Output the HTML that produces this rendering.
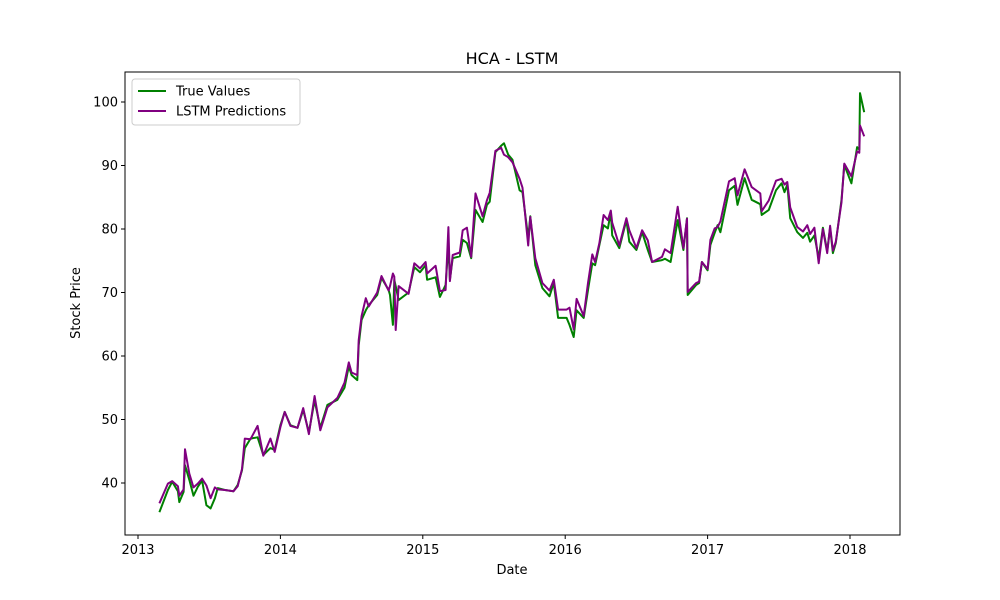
<!DOCTYPE html>
<html><head><meta charset="utf-8"><style>
body{margin:0;background:#fff;}
svg{display:block;font-family:"DejaVu Sans","Liberation Sans",sans-serif;}
</style></head><body>
<svg id="chart" width="1000" height="600">
<rect x="0" y="0" width="1000" height="600" fill="#fff"/>
<g id="plot"></g>
</svg>
<script>
const dates=[2013.15,2013.21,2013.24,2013.28,2013.29,2013.32,2013.33,2013.36,2013.39,2013.42,2013.45,2013.48,2013.51,2013.54,2013.56,2013.61,2013.67,2013.70,2013.73,2013.75,2013.79,2013.84,2013.88,2013.93,2013.96,2014.00,2014.03,2014.07,2014.12,2014.16,2014.20,2014.24,2014.28,2014.33,2014.40,2014.45,2014.48,2014.50,2014.54,2014.55,2014.57,2014.60,2014.62,2014.68,2014.71,2014.76,2014.77,2014.79,2014.80,2014.81,2014.83,2014.90,2014.94,2014.98,2015.02,2015.03,2015.09,2015.12,2015.16,2015.18,2015.19,2015.21,2015.26,2015.28,2015.31,2015.34,2015.37,2015.42,2015.45,2015.47,2015.51,2015.55,2015.57,2015.60,2015.63,2015.68,2015.70,2015.74,2015.755,2015.79,2015.84,2015.89,2015.92,2015.95,2016.01,2016.03,2016.06,2016.08,2016.13,2016.16,2016.19,2016.21,2016.24,2016.27,2016.30,2016.32,2016.33,2016.38,2016.43,2016.45,2016.50,2016.54,2016.58,2016.61,2016.68,2016.70,2016.74,2016.79,2016.83,2016.855,2016.86,2016.92,2016.94,2016.96,2017.00,2017.02,2017.05,2017.07,2017.09,2017.15,2017.19,2017.21,2017.26,2017.31,2017.37,2017.38,2017.43,2017.48,2017.52,2017.54,2017.56,2017.58,2017.63,2017.67,2017.70,2017.72,2017.75,2017.78,2017.81,2017.84,2017.86,2017.88,2017.90,2017.94,2017.96,2018.01,2018.05,2018.065,2018.07,2018.10];
const trueValues=[35.4,38.9,40.2,38.7,37.0,38.6,42.8,40.5,38.0,39.4,40.4,36.5,36.0,37.6,39.2,38.9,38.7,39.7,42.0,45.5,47.0,47.2,44.4,45.5,45.2,49.1,51.2,49.1,48.7,51.5,48.0,53.0,48.7,52.3,53.1,55.0,58.4,57.0,56.2,61.7,65.7,67.2,68.0,69.6,72.3,70.4,69.6,64.9,72.0,71.0,68.8,70.0,74.0,73.2,74.3,72.0,72.4,69.3,71.2,77.5,72.0,75.4,75.7,78.3,77.8,75.4,83.0,81.1,83.8,84.3,92.1,93.1,93.5,91.7,90.9,86.1,85.8,78.6,82.0,74.3,70.7,69.4,71.5,66.0,66.0,64.9,63.0,67.2,66.0,70.4,74.6,74.3,77.5,80.6,80.1,82.7,79.0,77.0,81.4,78.0,76.7,79.5,76.7,74.8,75.1,75.3,74.8,81.4,76.7,81.7,69.6,71.2,71.5,74.8,73.5,77.5,79.4,80.6,79.5,86.1,86.8,83.8,88.0,84.6,83.9,82.2,83.0,86.1,87.2,85.8,87.0,81.7,79.5,78.6,79.4,78.0,79.0,75.4,80.2,76.5,80.2,76.2,77.8,84.6,90.1,87.2,92.9,92.5,101.4,98.4];
const predValues=[36.8,39.9,40.3,39.5,38.0,39.0,45.3,41.5,39.3,39.9,40.7,39.6,37.6,39.3,39.0,38.9,38.7,39.5,42.2,47.0,46.9,49.0,44.3,47.0,44.9,48.8,51.2,49.0,48.7,51.8,47.7,53.7,48.3,51.9,53.4,55.8,59.0,57.4,57.0,62.5,66.3,69.1,67.8,70.0,72.6,70.3,71.0,73.0,72.5,64.1,71.0,69.8,74.6,73.8,74.8,73.0,74.2,70.2,70.4,80.3,71.8,75.9,76.3,79.8,80.2,75.6,85.6,82.0,84.5,85.7,92.3,92.8,91.7,91.3,90.5,87.9,86.5,77.4,81.9,75.4,71.5,70.3,72.0,67.3,67.3,67.6,64.2,69.0,66.3,71.5,76.0,74.8,77.8,82.2,81.4,82.9,81.0,77.4,81.7,79.8,77.0,79.8,78.2,74.8,75.6,76.8,76.2,83.5,77.0,81.6,70.1,71.5,71.7,74.8,73.7,78.3,80.1,80.3,81.2,87.5,88.0,85.3,89.4,86.6,85.6,82.8,84.5,87.6,87.9,87.0,87.4,83.4,80.3,79.6,80.6,79.2,80.2,74.6,80.0,76.2,80.5,76.6,78.0,84.2,90.3,88.3,92.2,92.0,96.3,94.6];
const xTicks=[2013,2014,2015,2016,2017,2018];
const yTicks=[40,50,60,70,80,90,100];

const NS="http://www.w3.org/2000/svg";
const g=document.getElementById('plot');
const L=125,R=900,T=72,B=535;
function xs(d){return 138+(d-2013)*142.4;}
function ys(v){return 483-(v-40)*6.35;}
function mk(tag,attrs,parent){const e=document.createElementNS(NS,tag);for(const k in attrs)e.setAttribute(k,attrs[k]);(parent||g).appendChild(e);return e;}

function series(vals,color,name){
  const p=mk('path',{d:vals.map((v,i)=>(i?'L':'M')+xs(dates[i]).toFixed(1)+','+ys(v).toFixed(1)).join(''),fill:'none',stroke:color,'stroke-width':2,'stroke-linejoin':'round'});
  
  
}
series(trueValues,'#008000','true-values-line');
series(predValues,'#800080','lstm-predictions-line');

const frame=mk('rect',{x:L,y:T,width:R-L,height:B-T,fill:'none',stroke:'#000','stroke-width':1});



xTicks.forEach(t=>{
  const x=xs(t);
  mk('line',{x1:x,x2:x,y1:B,y2:B+4,stroke:'#000'});
  const tx=mk('text',{x:x,y:B+19,'text-anchor':'middle','font-size':13});
  tx.textContent=t;
  
  
});
yTicks.forEach(t=>{
  const y=ys(t);
  mk('line',{x1:L-4,x2:L,y1:y,y2:y,stroke:'#000'});
  const tx=mk('text',{x:L-7,y:y+4.5,'text-anchor':'end','font-size':13});
  tx.textContent=t;
  
  
});

const title=mk('text',{x:512,y:64,'text-anchor':'middle','font-size':16});
title.textContent='HCA - LSTM';


const xl=mk('text',{x:512,y:574,'text-anchor':'middle','font-size':13});
xl.textContent='Date';


const yl=mk('text',{x:80,y:303,'text-anchor':'middle','font-size':13,transform:'rotate(-90 80 303)'});
yl.textContent='Stock Price';



const leg=mk('g',{});


mk('rect',{x:132,y:79,width:168,height:46,rx:3,fill:'#fff',stroke:'#ccc'},leg);
[['True Values','#008000',91],['LSTM Predictions','#800080',111]].forEach(([lab,c,y])=>{
  const e=mk('g',{},leg);
  
  
  mk('line',{x1:138,x2:166,y1:y,y2:y,stroke:c,'stroke-width':2},e);
  const t=mk('text',{x:176,y:y+4.5,'font-size':13},e);
  t.textContent=lab;
});
</script>
</body></html>
